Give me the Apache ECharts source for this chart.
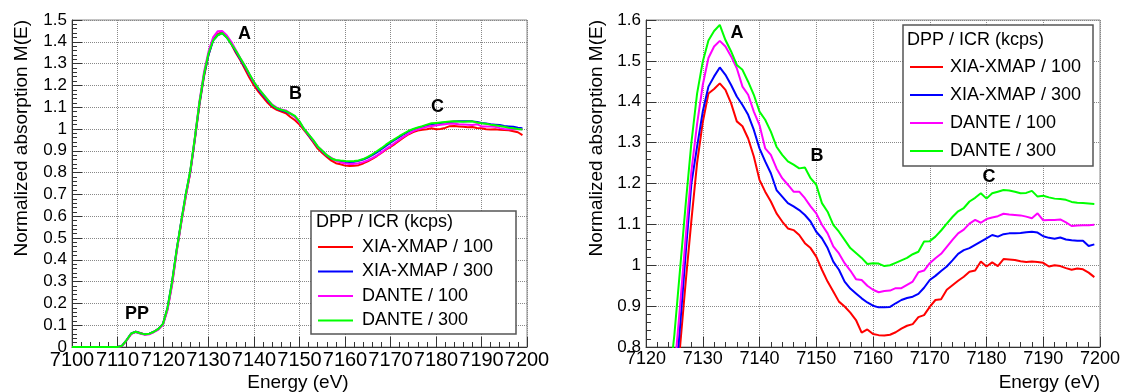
<!DOCTYPE html>
<html>
<head>
<meta charset="utf-8">
<script src="https://cdn.jsdelivr.net/npm/echarts@6/dist/echarts.min.js"></script>
<style>
html,body{margin:0;padding:0;background:#fff;}
#chart{width:1125px;height:392px;}
</style>
</head>
<body>
<div id="chart"></div>
<script>
// ---------- DATA ----------
const seriesNames = ["XIA-XMAP / 100", "XIA-XMAP / 300", "DANTE / 100", "DANTE / 300"];
const legendTitle = "DPP / ICR (kcps)";
const xTicksLeft = [7100, 7200, 10];
const yTicksLeft = [0, 1.5, 0.1];
const xTicksRight = [7120, 7200, 10];
const yTicksRight = [0.8, 1.6, 0.1];

const energyLeft = [7100,7110,7111,7112,7113,7114,7115,7116,7117,7118,7119,7120,7121,7122,7123,7124,7125,7126,7127,7128,7129,7130,7131,7132,7133,7134,7135,7136,7137,7138,7139,7140,7141,7142,7143,7144,7145,7146,7147,7148,7149,7150,7151,7152,7153,7154,7155,7156,7157,7158,7159,7160,7161,7162,7163,7164,7165,7166,7167,7168,7169,7170,7171,7172,7173,7174,7175,7176,7177,7178,7179,7180,7181,7182,7183,7184,7185,7186,7187,7188,7189,7190,7191,7192,7193,7194,7195,7196,7197,7198,7199];

const leftXia100 = [0,0,0.005,0.03,0.06,0.07,0.064,0.058,0.06,0.07,0.083,0.105,0.175,0.29,0.44,0.57,0.69,0.80,0.95,1.11,1.24,1.34,1.41,1.435,1.445,1.425,1.39,1.35,1.315,1.275,1.235,1.2,1.17,1.145,1.12,1.1,1.088,1.08,1.072,1.055,1.04,1.02,0.995,0.968,0.94,0.91,0.89,0.872,0.855,0.843,0.838,0.832,0.83,0.831,0.834,0.842,0.852,0.863,0.876,0.89,0.905,0.918,0.932,0.948,0.962,0.976,0.986,0.993,0.997,0.999,1.003,0.999,1.0,1.005,1.013,1.014,1.012,1.01,1.008,1.009,1.005,1.003,0.999,0.998,0.999,0.996,0.995,0.994,0.99,0.985,0.972];

const leftXia300 = [0,0,0.006,0.032,0.062,0.07,0.063,0.058,0.061,0.07,0.083,0.106,0.18,0.3,0.445,0.575,0.7,0.805,0.955,1.115,1.245,1.34,1.405,1.43,1.44,1.42,1.392,1.355,1.32,1.285,1.248,1.212,1.18,1.155,1.13,1.108,1.094,1.086,1.08,1.07,1.056,1.032,1.0,0.972,0.946,0.918,0.898,0.878,0.864,0.856,0.852,0.85,0.849,0.85,0.854,0.86,0.869,0.88,0.893,0.907,0.922,0.937,0.951,0.964,0.977,0.989,0.998,1.005,1.011,1.017,1.022,1.025,1.027,1.03,1.032,1.034,1.035,1.035,1.036,1.035,1.032,1.028,1.025,1.022,1.02,1.018,1.014,1.012,1.01,1.006,1.004];

const leftDante100 = [0,0,0.005,0.03,0.06,0.068,0.062,0.056,0.058,0.068,0.08,0.102,0.17,0.285,0.435,0.568,0.69,0.805,0.96,1.125,1.26,1.355,1.42,1.448,1.45,1.43,1.4,1.362,1.325,1.29,1.25,1.215,1.185,1.16,1.135,1.112,1.098,1.09,1.085,1.072,1.055,1.03,1.0,0.975,0.948,0.92,0.9,0.88,0.868,0.855,0.847,0.842,0.84,0.84,0.843,0.848,0.856,0.866,0.878,0.893,0.908,0.922,0.937,0.952,0.966,0.979,0.99,0.998,1.004,1.01,1.014,1.016,1.019,1.022,1.025,1.024,1.022,1.021,1.02,1.018,1.022,1.012,1.012,1.012,1.01,1.004,1.0,0.999,0.999,0.999,0.999];

const leftDante300 = [0,0,0.006,0.032,0.062,0.07,0.063,0.058,0.061,0.07,0.083,0.106,0.18,0.3,0.445,0.575,0.7,0.81,0.96,1.12,1.25,1.345,1.405,1.43,1.44,1.42,1.39,1.36,1.325,1.29,1.252,1.215,1.185,1.16,1.135,1.11,1.095,1.088,1.082,1.072,1.06,1.035,1.0,0.975,0.95,0.92,0.9,0.88,0.865,0.858,0.855,0.853,0.852,0.853,0.856,0.862,0.872,0.884,0.898,0.912,0.928,0.942,0.955,0.968,0.98,0.992,1.0,1.007,1.013,1.02,1.026,1.028,1.03,1.032,1.034,1.035,1.034,1.033,1.034,1.035,1.03,1.026,1.024,1.02,1.017,1.014,1.01,1.006,1.003,1.0,0.998];

const energyRight = [7124,7125,7126,7127,7128,7129,7130,7131,7132,7133,7134,7135,7136,7137,7138,7139,7140,7141,7142,7143,7144,7145,7146,7147,7148,7149,7150,7151,7152,7153,7154,7155,7156,7157,7158,7159,7160,7161,7162,7163,7164,7165,7166,7167,7168,7169,7170,7171,7172,7173,7174,7175,7176,7177,7178,7179,7180,7181,7182,7183,7184,7185,7186,7187,7188,7189,7190,7191,7192,7193,7194,7195,7196,7197,7198,7199];

const rightXia100 = [0.57,0.67,0.80,0.96,1.11,1.25,1.35,1.42,1.431,1.445,1.429,1.396,1.352,1.34,1.31,1.266,1.209,1.18,1.156,1.127,1.107,1.09,1.086,1.074,1.054,1.042,1.021,0.989,0.96,0.936,0.911,0.899,0.884,0.866,0.835,0.843,0.832,0.829,0.828,0.83,0.836,0.845,0.852,0.856,0.873,0.878,0.898,0.915,0.917,0.94,0.951,0.962,0.972,0.984,0.987,1.009,0.997,1.007,0.998,1.015,1.014,1.013,1.01,1.008,1.009,1.008,1.006,0.997,1.0,0.998,0.993,0.989,0.992,0.99,0.982,0.971];

const rightXia300 = [0.58,0.68,0.85,1.03,1.2,1.29,1.376,1.437,1.462,1.484,1.466,1.441,1.413,1.392,1.368,1.331,1.286,1.254,1.225,1.184,1.168,1.152,1.144,1.135,1.123,1.107,1.082,1.066,1.042,1.009,0.989,0.96,0.943,0.931,0.919,0.909,0.901,0.897,0.897,0.898,0.907,0.915,0.92,0.923,0.93,0.945,0.964,0.974,0.986,0.997,1.012,1.028,1.037,1.042,1.05,1.058,1.066,1.074,1.07,1.076,1.078,1.078,1.079,1.081,1.082,1.08,1.071,1.067,1.065,1.068,1.063,1.061,1.06,1.06,1.047,1.051];

const rightDante100 = [0.6,0.74,0.9,1.07,1.23,1.345,1.441,1.507,1.535,1.549,1.535,1.511,1.482,1.437,1.417,1.376,1.343,1.286,1.27,1.237,1.213,1.197,1.18,1.18,1.164,1.144,1.127,1.099,1.078,1.046,1.029,1.005,0.987,0.966,0.964,0.95,0.94,0.934,0.937,0.938,0.944,0.944,0.952,0.96,0.983,0.987,1.005,1.017,1.028,1.045,1.062,1.078,1.087,1.102,1.111,1.104,1.113,1.117,1.12,1.126,1.124,1.123,1.122,1.119,1.115,1.127,1.11,1.111,1.111,1.112,1.105,1.096,1.097,1.098,1.098,1.099];

const rightDante300 = [0.7,0.83,0.99,1.15,1.3,1.42,1.498,1.55,1.573,1.588,1.551,1.523,1.49,1.478,1.449,1.417,1.376,1.356,1.327,1.29,1.27,1.254,1.246,1.237,1.239,1.213,1.197,1.152,1.131,1.099,1.082,1.062,1.042,1.03,1.018,1.003,1.005,1.004,0.998,1.0,1.006,1.012,1.018,1.027,1.033,1.058,1.059,1.07,1.085,1.102,1.118,1.132,1.14,1.156,1.165,1.176,1.163,1.176,1.18,1.184,1.183,1.18,1.176,1.177,1.182,1.168,1.17,1.166,1.163,1.162,1.16,1.155,1.153,1.152,1.151,1.15];

// ---------- STYLE ----------
const FONT = "'Liberation Sans', Arial, Helvetica, sans-serif";
const colors = ['#ff0000', '#0000ff', '#ff00ff', '#00ff00'];
const leftValues = [leftXia100, leftXia300, leftDante100, leftDante300];
const rightValues = [rightXia100, rightXia300, rightDante100, rightDante300];

function pairs(xs, ys) { return xs.map((x, i) => [x, ys[i]]); }

function xAxisCfg(t, gridIndex, fs) {
  return {
    type: 'value', gridIndex, min: t[0], max: t[1], interval: t[2],
    axisLine: { show: true, onZero: false, lineStyle: { color: '#333', width: 1 } },
    axisTick: { show: true, inside: true, length: 10, lineStyle: { color: '#333' } },
    minorTick: { show: true, splitNumber: 5, length: 5, lineStyle: { color: '#333' } },
    axisLabel: { color: '#000', fontSize: fs, fontFamily: FONT, margin: 3,
      showMinLabel: true, showMaxLabel: true, hideOverlap: false,
      formatter: v => String(v) },
    splitLine: { show: true, lineStyle: { type: 'dotted', color: '#888', width: 1 } }
  };
}
function yAxisCfg(t, gridIndex) {
  return {
    type: 'value', gridIndex, min: t[0], max: t[1], interval: t[2],
    axisLine: { show: true, onZero: false, lineStyle: { color: '#333', width: 1 } },
    axisTick: { show: true, inside: true, length: 10, lineStyle: { color: '#333' } },
    minorTick: { show: true, splitNumber: 5, length: 5, lineStyle: { color: '#333' } },
    axisLabel: { color: '#000', fontSize: 17, fontFamily: FONT, margin: 5,
      showMinLabel: true, showMaxLabel: true },
    splitLine: { show: true, lineStyle: { type: 'dotted', color: '#888', width: 1 } }
  };
}

const series = [];
seriesNames.forEach((n, i) => {
  series.push({
    name: n, type: 'line', xAxisIndex: 0, yAxisIndex: 0,
    data: pairs(energyLeft, leftValues[i]),
    symbol: 'none', showSymbol: false, color: colors[i],
    lineStyle: { width: 2, color: colors[i] }, clip: true, z: 2
  });
});
seriesNames.forEach((n, i) => {
  series.push({
    name: n, type: 'line', xAxisIndex: 1, yAxisIndex: 1,
    data: pairs(energyRight, rightValues[i]),
    symbol: 'none', showSymbol: false, color: colors[i],
    lineStyle: { width: 2, color: colors[i] }, clip: true, z: 2
  });
});

function txt(x, y, text, size, opts) {
  opts = opts || {};
  return {
    type: 'text', x, y, z: 10, rotation: opts.rotation || 0,
    style: {
      text, fill: '#000', font: (opts.bold ? 'bold ' : '') + size + 'px ' + FONT,
      align: opts.align || 'center', verticalAlign: opts.valign || 'middle'
    }
  };
}

const legendCommon = {
  orient: 'vertical', padding: 0, selectedMode: false, z: 6,
  icon: 'rect', itemHeight: 2,
  data: seriesNames
};

const option = {
  animation: false,
  backgroundColor: '#fff',
  grid: [
    { left: 72, top: 20, width: 455, height: 327, show: true, borderColor: '#888', borderWidth: 1, backgroundColor: 'transparent' },
    { left: 646, top: 20, width: 454, height: 327, show: true, borderColor: '#888', borderWidth: 1, backgroundColor: 'transparent' }
  ],
  xAxis: [xAxisCfg(xTicksLeft, 0, 20), xAxisCfg(xTicksRight, 1, 18)],
  yAxis: [yAxisCfg(yTicksLeft, 0), yAxisCfg(yTicksRight, 1)],
  legend: [
    Object.assign({}, legendCommon, {
      left: 318, top: 237, itemWidth: 35, itemGap: 4.5,
      textStyle: { fontSize: 18, fontFamily: FONT, color: '#000', lineHeight: 20, padding: [0, 0, 0, 4] }
    }),
    Object.assign({}, legendCommon, {
      left: 910, top: 57, itemWidth: 33, itemGap: 8,
      textStyle: { fontSize: 18, fontFamily: FONT, color: '#000', lineHeight: 20, padding: [0, 0, 0, 2] }
    })
  ],
  graphic: {
    elements: [
      { type: 'rect', z: 5, shape: { x: 311, y: 211, width: 205, height: 123 }, style: { fill: '#fff', stroke: '#555', lineWidth: 1.5 } },
      { type: 'rect', z: 5, shape: { x: 903, y: 25, width: 190, height: 141 }, style: { fill: '#fff', stroke: '#555', lineWidth: 1.5 } },
      txt(316, 222, legendTitle, 18, { align: 'left' }),
      txt(907, 40, legendTitle, 18, { align: 'left' }),
      txt(22, 20, 'Normalized absorption M(E)', 19, { align: 'right', rotation: Math.PI / 2 }),
      txt(597, 20, 'Normalized absorption M(E)', 19, { align: 'right', rotation: Math.PI / 2 }),
      txt(298, 383, 'Energy (eV)', 19),
      txt(1100, 383, 'Energy (eV)', 19, { align: 'right' }),
      txt(244.5, 34.5, 'A', 18, { bold: true }),
      txt(295.5, 94.5, 'B', 18, { bold: true }),
      txt(437.5, 107.5, 'C', 18, { bold: true }),
      txt(137, 314.5, 'PP', 18, { bold: true }),
      txt(737, 33.5, 'A', 18, { bold: true }),
      txt(817, 156.5, 'B', 18, { bold: true }),
      txt(989, 177.5, 'C', 18, { bold: true })
    ]
  },
  series
};

const chart = echarts.init(document.getElementById('chart'), null, { renderer: 'canvas' });
chart.setOption(option);
</script>
</body>
</html>
